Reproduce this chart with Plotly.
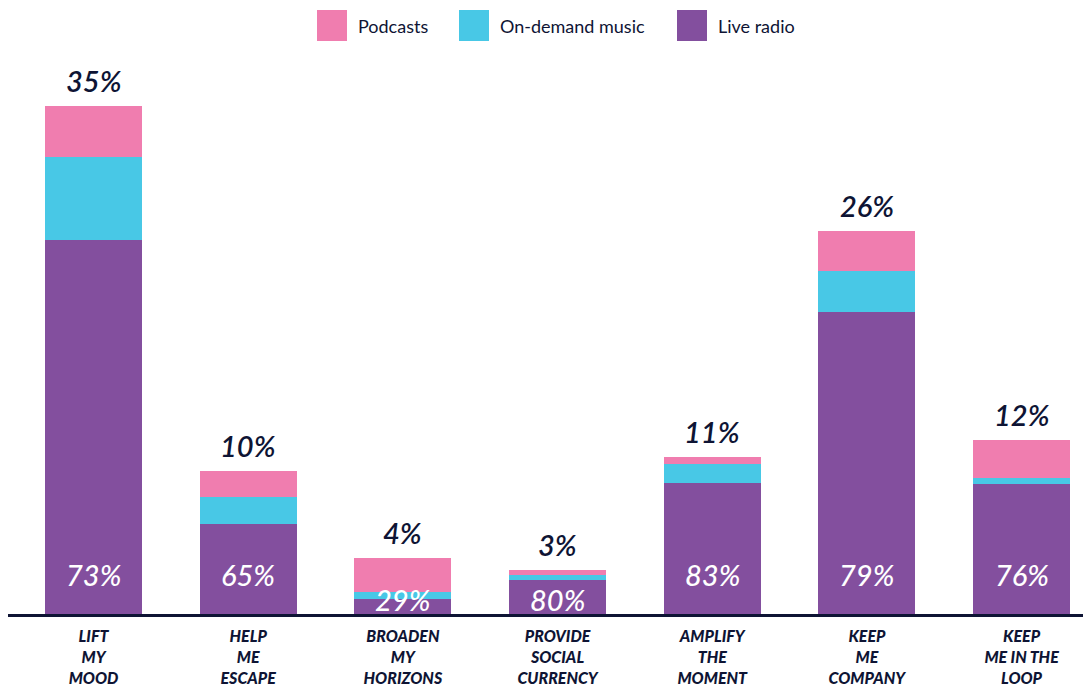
import plotly.graph_objects as go

# ---- data (percentage points) ----
categories = [
    "LIFT<br>MY<br>MOOD",
    "HELP<br>ME<br>ESCAPE",
    "BROADEN<br>MY<br>HORIZONS",
    "PROVIDE<br>SOCIAL<br>CURRENCY",
    "AMPLIFY<br>THE<br>MOMENT",
    "KEEP<br>ME<br>COMPANY",
    "KEEP<br>ME IN THE<br>LOOP",
]
live_radio = [25.77, 6.22, 1.03, 2.34, 9.03, 20.83, 8.96]
on_demand_music = [5.74, 1.84, 0.50, 0.34, 1.33, 2.80, 0.43]
podcasts = [3.49, 1.79, 2.34, 0.34, 0.46, 2.76, 2.60]
total_labels = ["35%", "10%", "4%", "3%", "11%", "26%", "12%"]
live_share_labels = ["73%", "65%", "29%", "80%", "83%", "79%", "76%"]

PINK = "#F07DAF"
CYAN = "#48C8E6"
PURPLE = "#834F9E"
NAVY = "#0E1434"
FONT = "Lato"

x = list(range(len(categories)))
totals = [a + b + c for a, b, c in zip(live_radio, on_demand_music, podcasts)]

fig = go.Figure()
for name, vals, color in [
    ("Live radio", live_radio, PURPLE),
    ("On-demand music", on_demand_music, CYAN),
    ("Podcasts", podcasts, PINK),
]:
    fig.add_trace(go.Bar(
        x=x, y=vals, name=name,
        marker=dict(color=color, line=dict(width=0)),
        hoverinfo="skip",
    ))

annotations = []
# totals above the bars
for xi, t, lab in zip(x, totals, total_labels):
    annotations.append(dict(
        x=xi, y=t, xref="x", yref="y", text=f"<i>{lab}</i>",
        showarrow=False, yanchor="bottom", yshift=6,
        font=dict(family=FONT, size=29, color=NAVY, weight=600),
    ))
# live radio share inside the purple segment
for xi, v, lab in zip(x, live_radio, live_share_labels):
    annotations.append(dict(
        x=xi, y=2.75 if v > 5 else 1.0, xref="x", yref="y",
        text=f"<i>{lab}</i>", showarrow=False, yanchor="middle",
        font=dict(family=FONT, size=29, color="white", weight=500),
    ))

# page body adds an 8px offset, so the figure is laid out 8px smaller
FW, FH = 1083, 679
L, T, W, H = 0, 42, 1083, 564


def px(xp):
    return (xp - 8 - L) / W


def py(yp):
    return (T + H - (yp - 8)) / H


# hand-drawn legend with large swatches (paper coordinates)
shapes = []
for (x0, label, color) in [(317, "Podcasts", PINK),
                           (459, "On-demand music", CYAN),
                           (677, "Live radio", PURPLE)]:
    shapes.append(dict(
        type="rect", xref="paper", yref="paper",
        x0=px(x0), x1=px(x0 + 30), y0=py(41), y1=py(10),
        fillcolor=color, line=dict(width=0),
    ))
    annotations.append(dict(
        x=px(x0 + 39), y=py(26), xref="paper", yref="paper",
        text=label, showarrow=False, xanchor="left", yanchor="middle",
        font=dict(family=FONT, size=18, color=NAVY),
    ))

fig.update_layout(
    barmode="stack",
    bargap=0.373,
    showlegend=False,
    width=FW, height=FH,
    margin=dict(l=L, r=FW - L - W, t=T, b=FH - T - H),
    paper_bgcolor="white",
    plot_bgcolor="white",
    annotations=annotations,
    shapes=shapes,
    xaxis=dict(
        range=[-0.553, 6.449],
        tickmode="array", tickvals=x,
        ticktext=[f"<i>{c}</i>" for c in categories],
        tickfont=dict(family=FONT, size=16, color=NAVY, weight=900),
        showgrid=False, zeroline=False,
        showline=True, linecolor=NAVY, linewidth=3,
        ticks="", ticklabelstandoff=6, automargin=False,
    ),
    yaxis=dict(
        range=[0, H / 14.51],
        visible=False, showgrid=False, zeroline=False,
        automargin=False,
    ),
)

fig.write_html("out.html")
